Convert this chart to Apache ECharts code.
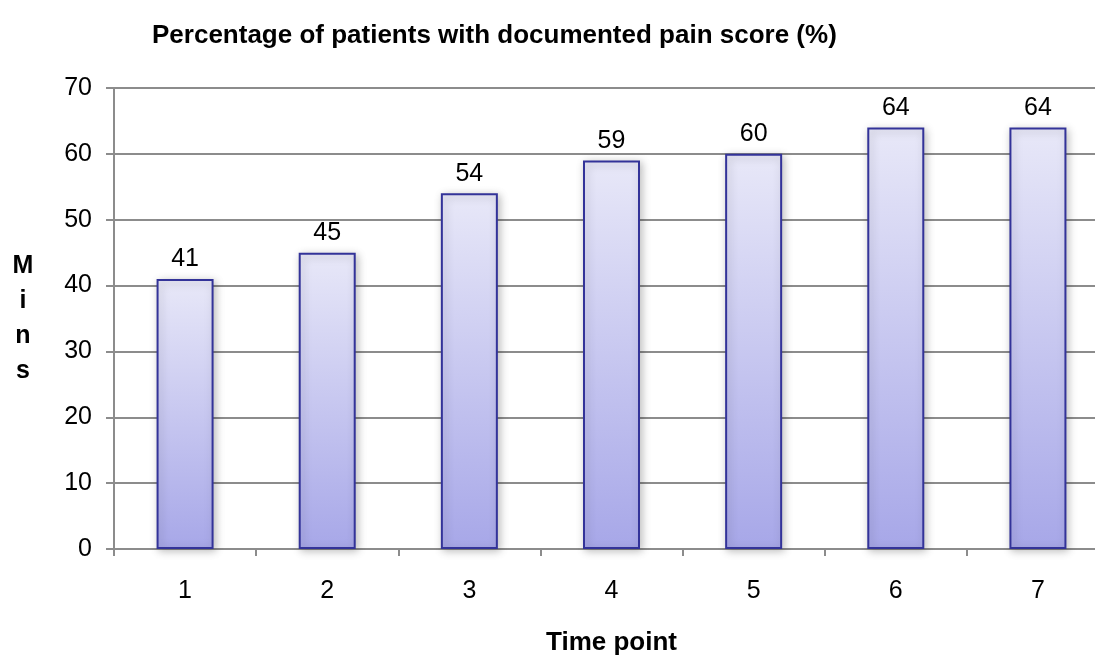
<!DOCTYPE html>
<html>
<head>
<meta charset="utf-8">
<script src="https://cdn.jsdelivr.net/npm/echarts@6/dist/echarts.min.js"></script>
<style>html,body{margin:0;padding:0;background:#fff;overflow:hidden}#c{width:1095px;height:656px}</style>
</head>
<body>
<div id="c"></div>
<script>
var categories = ['1','2','3','4','5','6','7'];
var values = [41, 45, 54, 59, 60, 64, 64];
var titleText = 'Percentage of patients with documented pain score (%)';
var yName = 'M\ni\nn\ns';
var xName = 'Time point';

var chart = echarts.init(document.getElementById('c'), null, {renderer: 'canvas'});
var font = 'Liberation Sans, Arial, sans-serif';
chart.setOption({
  animation: false,
  backgroundColor: '#ffffff',
  title: {
    text: titleText, left: 147, top: 18,
    textStyle: {fontFamily: font, fontSize: 26, fontWeight: 'bold', color: '#000'}
  },
  grid: {left: 114, top: 88, width: 995, height: 461, containLabel: false, outerBoundsMode: 'none'},
  xAxis: {
    type: 'category', data: categories,
    axisLine: {lineStyle: {color: '#8c8c8c', width: 2}},
    axisTick: {show: true, length: 7, alignWithLabel: false, lineStyle: {color: '#8c8c8c', width: 2}},
    axisLabel: {fontFamily: font, fontSize: 25, color: '#000', margin: 30},
    name: xName, nameLocation: 'middle', nameGap: 81,
    nameTextStyle: {fontFamily: font, fontSize: 26, fontWeight: 'bold', color: '#000'}
  },
  yAxis: {
    type: 'value', min: 0, max: 70, interval: 10,
    axisLine: {show: true, lineStyle: {color: '#8c8c8c', width: 2}},
    axisTick: {show: true, length: 8, lineStyle: {color: '#8c8c8c', width: 2}},
    splitLine: {show: true, lineStyle: {color: '#8c8c8c', width: 2}},
    axisLabel: {fontFamily: font, fontSize: 25, color: '#000', margin: 22},
    name: yName, nameLocation: 'middle', nameGap: 91, nameRotate: 0,
    nameTextStyle: {fontFamily: font, fontSize: 25, fontWeight: 'bold', color: '#000', lineHeight: 35, align: 'center', padding: [12, 0, 0, 0]}
  },
  series: [{
    type: 'bar', data: values, barWidth: 57,
    itemStyle: {
      color: new echarts.graphic.LinearGradient(0, 0, 0, 1, [
        {offset: 0, color: '#e8e8f8'},
        {offset: 1, color: '#a7a7e8'}
      ]),
      borderColor: '#333399', borderWidth: 2,
      shadowColor: 'rgba(0,0,0,0.25)', shadowBlur: 8, shadowOffsetX: 2, shadowOffsetY: 2
    },
    label: {show: true, position: 'top', distance: 7, fontFamily: font, fontSize: 25, color: '#000'}
  }]
});
</script>
</body>
</html>
